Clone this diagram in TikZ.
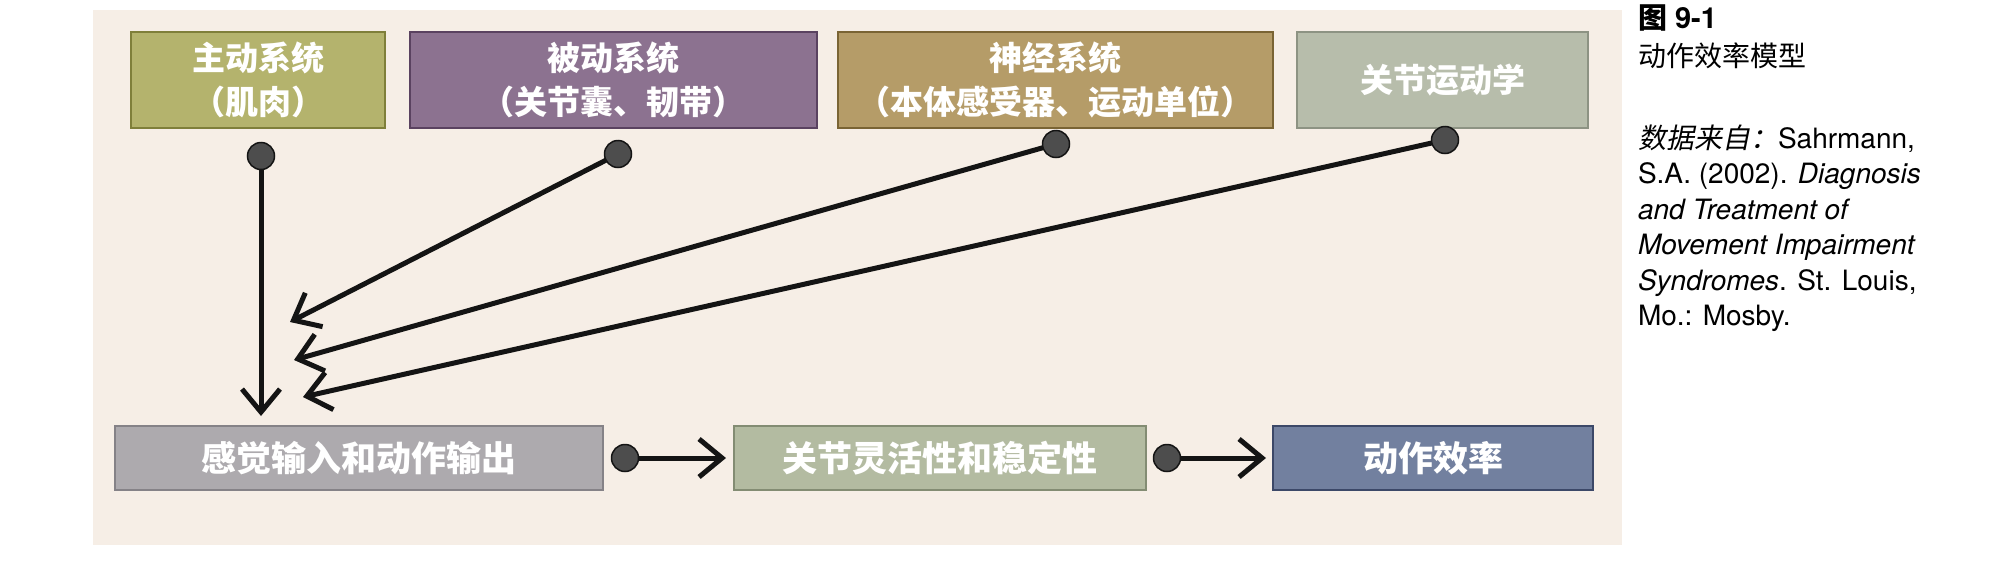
\documentclass[tikz,border=0pt]{standalone}
\usepackage{fontspec}
\setmainfont{TeX Gyre Heros}
\newfontfamily\cjk{Noto Sans CJK SC}
\newfontfamily\cjkit[FakeSlant=0.2]{Noto Sans CJK SC}
\usetikzlibrary{arrows.meta}
\definecolor{panelc}{HTML}{F6EEE6}
\definecolor{fa}{HTML}{B4B36D}\definecolor{da}{HTML}{7F7F3A}
\definecolor{fb}{HTML}{8C7290}\definecolor{db}{HTML}{5A4260}
\definecolor{fc}{HTML}{B59C68}\definecolor{dc}{HTML}{7A6434}
\definecolor{fd}{HTML}{B7BDAB}\definecolor{dd}{HTML}{8D9383}
\definecolor{fe}{HTML}{ADAAAE}\definecolor{de}{HTML}{858287}
\definecolor{ff}{HTML}{B3BBA1}\definecolor{df}{HTML}{838C73}
\definecolor{fg}{HTML}{72809F}\definecolor{dg}{HTML}{3C4868}
\definecolor{dotc}{HTML}{4D4D4D}
\definecolor{linec}{HTML}{141414}
\tikzset{
  topbox/.style={draw, line width=2pt, rectangle, inner sep=0pt, outer sep=0pt,
    minimum height=96pt, text=white, align=center,
    font=\cjk\bfseries\fontsize{33}{44}\selectfont},
  botbox/.style={draw, line width=2pt, rectangle, inner sep=0pt, outer sep=0pt,
    minimum height=64pt, text=white, align=center,
    font=\cjk\bfseries\fontsize{35}{40}\selectfont},
  blob/.style={circle, fill=dotc, draw=linec, line width=1.5pt, minimum size=27pt, inner sep=0pt, outer sep=0pt},
  conn/.style={draw=linec, line width=5pt, -{Straight Barb[length=23pt,width=38pt]}},
  captext/.style={inner sep=0pt, outer sep=0pt, anchor=base west, align=left}
}
\begin{document}
\begin{tikzpicture}[x=1pt,y=-1pt]
\useasboundingbox (0,0) rectangle (2000,560);
\fill[white] (0,0) rectangle (2000,560);
\fill[panelc] (93,10) rectangle (1622,545);
% top boxes
\node[topbox, fill=fa, draw=da, minimum width=254pt] (b1) at (258,80) {主动系统\\（肌肉）};
\node[topbox, fill=fb, draw=db, minimum width=407pt] (b2) at (613.5,80) {被动系统\\（关节囊、韧带）};
\node[topbox, fill=fc, draw=dc, minimum width=435pt] (b3) at (1055.5,80) {神经系统\\（本体感受器、运动单位）};
\node[topbox, fill=fd, draw=dd, minimum width=291pt] (b4) at (1442.5,80) {关节运动学};
% bottom boxes
\node[botbox, fill=fe, draw=de, minimum width=488pt] (b5) at (359,458) {感觉输入和动作输出};
\node[botbox, fill=ff, draw=df, minimum width=412pt] (b6) at (940,458) {关节灵活性和稳定性};
\node[botbox, fill=fg, draw=dg, minimum width=320pt] (b7) at (1433,458) {动作效率};
% dots
\node[blob] (d1) at (261,156) {};
\node[blob] (d2) at (618,154) {};
\node[blob] (d3) at (1056,144) {};
\node[blob] (d4) at (1445,140) {};
\node[blob] (d5) at (625,458) {};
\node[blob] (d6) at (1167,458) {};
% arrow tips
\coordinate (t1) at (261,416);
\coordinate (t2) at (290,322);
\coordinate (t3) at (294,360);
\coordinate (t4) at (303,397);
\coordinate (t5) at (726,458);
\coordinate (t6) at (1266,458);
\draw[conn] (d1) -- (t1);
\draw[conn] (d2) -- (t2);
\draw[conn] (d3) -- (t3);
\draw[conn] (d4) -- (t4);
\draw[conn] (d5) -- (t5);
\draw[conn] (d6) -- (t6);
% caption
\node[captext, font=\fontsize{29}{35}\selectfont\bfseries] (cap1) at (1638,28) {{\cjk 图} 9-1};
\node[captext, font=\cjk\fontsize{28}{35}\selectfont] (cap2) at (1638,66) {动作效率模型};
\node[captext, font=\fontsize{28}{35.5}\selectfont] (cap3) at (1638,325.5)
  {{\cjkit 数据来自：}Sahrmann,\\
   S.A. (2002). \textit{Diagnosis}\\
   \textit{and Treatment of}\\
   \textit{Movement Impairment}\\
   \textit{Syndromes}. St. Louis,\\
   Mo.: Mosby.};
\end{tikzpicture}
\end{document}
